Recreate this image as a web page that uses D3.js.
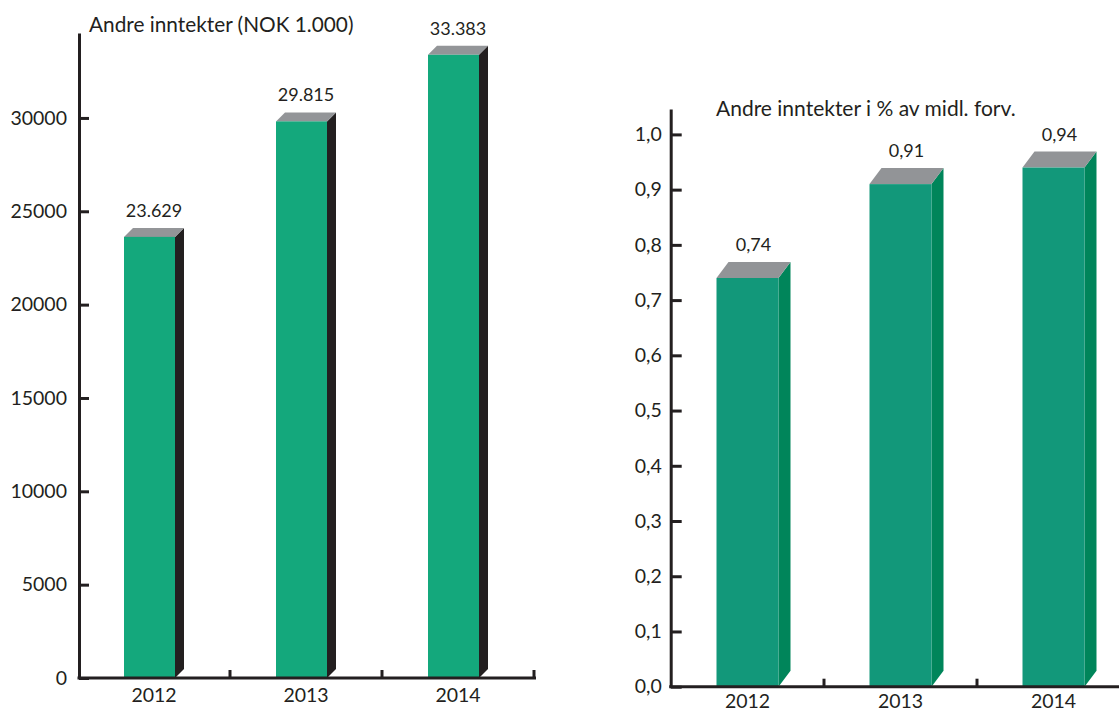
<!DOCTYPE html>
<html><head><meta charset="utf-8">
<script src="https://cdn.jsdelivr.net/npm/d3@7/dist/d3.min.js"></script>
<style>html,body{margin:0;padding:0;background:#fff}svg{display:block}</style>
</head><body>
<svg id="chart" width="1119" height="711"></svg>
<script>
// ---- data ----
const years = ["2012", "2013", "2014"];
const leftTitle = "Andre inntekter (NOK 1.000)";
const leftValues = [23629, 29815, 33383];
const leftValueLabels = ["23.629", "29.815", "33.383"];
const leftTicks = [0, 5000, 10000, 15000, 20000, 25000, 30000];
const rightTitle = "Andre inntekter i % av midl. forv.";
const rightValues = [0.74, 0.91, 0.94];
const rightValueLabels = ["0,74", "0,91", "0,94"];
const rightTicks = [0, 0.1, 0.2, 0.3, 0.4, 0.5, 0.6, 0.7, 0.8, 0.9, 1.0];

const FONT = "Lato, 'Open Sans', sans-serif";
const INK = "#231f20";
const svg = d3.select("#chart");

function drawChart(cfg) {
  const g = svg.append("g");
  const y = d3.scaleLinear().domain([0, cfg.yMax]).range([cfg.y0, cfg.yTop]);
  const x = d3.scaleBand().domain(years).range([cfg.x0, cfg.x0 + cfg.step * years.length]);

  // bars
  const bars = g.selectAll("g.bar").data(cfg.values).join("g").attr("class", "bar");
  bars.each(function (v, i) {
    const b = d3.select(this);
    const xl = x(years[i]) + cfg.barOffset;
    const xr = xl + cfg.barW;
    const yt = y(v), yb = y(0);
    const dx = cfg.dx, dy = cfg.dy;
    b.append("path").attr("fill", cfg.sideColor)
      .attr("d", `M${xr},${yt}L${xr + dx},${yt - dy}L${xr + dx},${yb - dy}L${xr},${yb}Z`);
    b.append("path").attr("fill", cfg.topColor)
      .attr("d", `M${xl},${yt}L${xl + dx},${yt - dy}L${xr + dx},${yt - dy}L${xr},${yt}Z`);
    b.append("rect").attr("fill", cfg.frontColor)
      .attr("x", xl).attr("y", yt).attr("width", cfg.barW).attr("height", yb - yt);
    b.append("text").attr("x", (xl + xr + dx) / 2).attr("y", yt - dy - cfg.labelGap)
      .attr("text-anchor", "middle").attr("font-family", FONT).attr("font-size", cfg.valueSize)
      .attr("fill", INK).text(cfg.valueLabels[i]);
  });

  // y axis
  const ya = g.append("g").attr("transform", `translate(${cfg.axisX},0)`)
    .call(d3.axisLeft(y).tickValues(cfg.ticks).tickFormat(cfg.fmt)
      .tickSizeInner(-cfg.tickLen).tickSizeOuter(0).tickPadding(cfg.tickPad));
  ya.selectAll("path.domain").attr("stroke", INK).attr("stroke-width", 3);
  ya.selectAll(".tick line").attr("stroke", INK).attr("stroke-width", 3);
  ya.selectAll(".tick text").attr("font-family", FONT).attr("font-size", cfg.tickSize).attr("fill", INK);

  // x axis
  const xa = g.append("g").attr("transform", `translate(0,${cfg.y0})`)
    .call(d3.axisBottom(x).tickSize(0).tickPadding(cfg.yearPad));
  xa.selectAll("path.domain").remove();
  xa.selectAll(".tick text").attr("font-family", FONT).attr("font-size", cfg.yearSize).attr("fill", INK);
  xa.append("line").attr("x1", cfg.axisX - 1.5).attr("x2", cfg.xEnd).attr("y1", 0).attr("y2", 0)
    .attr("stroke", INK).attr("stroke-width", 3);
  xa.selectAll("line.sep").data(years.map(d => x(d) + x.step())).join("line").attr("class", "sep")
    .attr("x1", d => d).attr("x2", d => d).attr("y1", 0).attr("y2", -8)
    .attr("stroke", INK).attr("stroke-width", 3);

  g.append("text").attr("x", cfg.titleX).attr("y", cfg.titleY).attr("font-family", FONT)
    .attr("font-size", cfg.titleSize).attr("fill", INK).text(cfg.title);
}

drawChart({
  title: leftTitle, values: leftValues, valueLabels: leftValueLabels, ticks: leftTicks,
  fmt: d3.format("d"), yMax: 34550, y0: 678, yTop: 33, x0: 78, step: 152, xEnd: 536,
  axisX: 79, barOffset: 46, barW: 51, dx: 9, dy: 9,
  frontColor: "#14a87c", sideColor: "#231f20", topColor: "#939598",
  labelGap: 11, valueSize: 18, tickLen: 10, tickPad: 12, tickSize: 19.5,
  yearPad: 10, yearSize: 19.5, titleX: 89, titleY: 32, titleSize: 20.8
});
drawChart({
  title: rightTitle, values: rightValues, valueLabels: rightValueLabels, ticks: rightTicks,
  fmt: d => d3.format(".1f")(d).replace(".", ","), yMax: 1.046, y0: 686.7, yTop: 109, x0: 671, step: 153, xEnd: 1119,
  axisX: 670.7, barOffset: 45.5, barW: 62, dx: 12, dy: 16,
  frontColor: "#12987a", sideColor: "#00855a", topColor: "#929497",
  labelGap: 11, valueSize: 18, tickLen: 11, tickPad: 9, tickSize: 19.5,
  yearPad: 7.5, yearSize: 19.5, titleX: 716, titleY: 116, titleSize: 21
});
</script>
</body></html>
